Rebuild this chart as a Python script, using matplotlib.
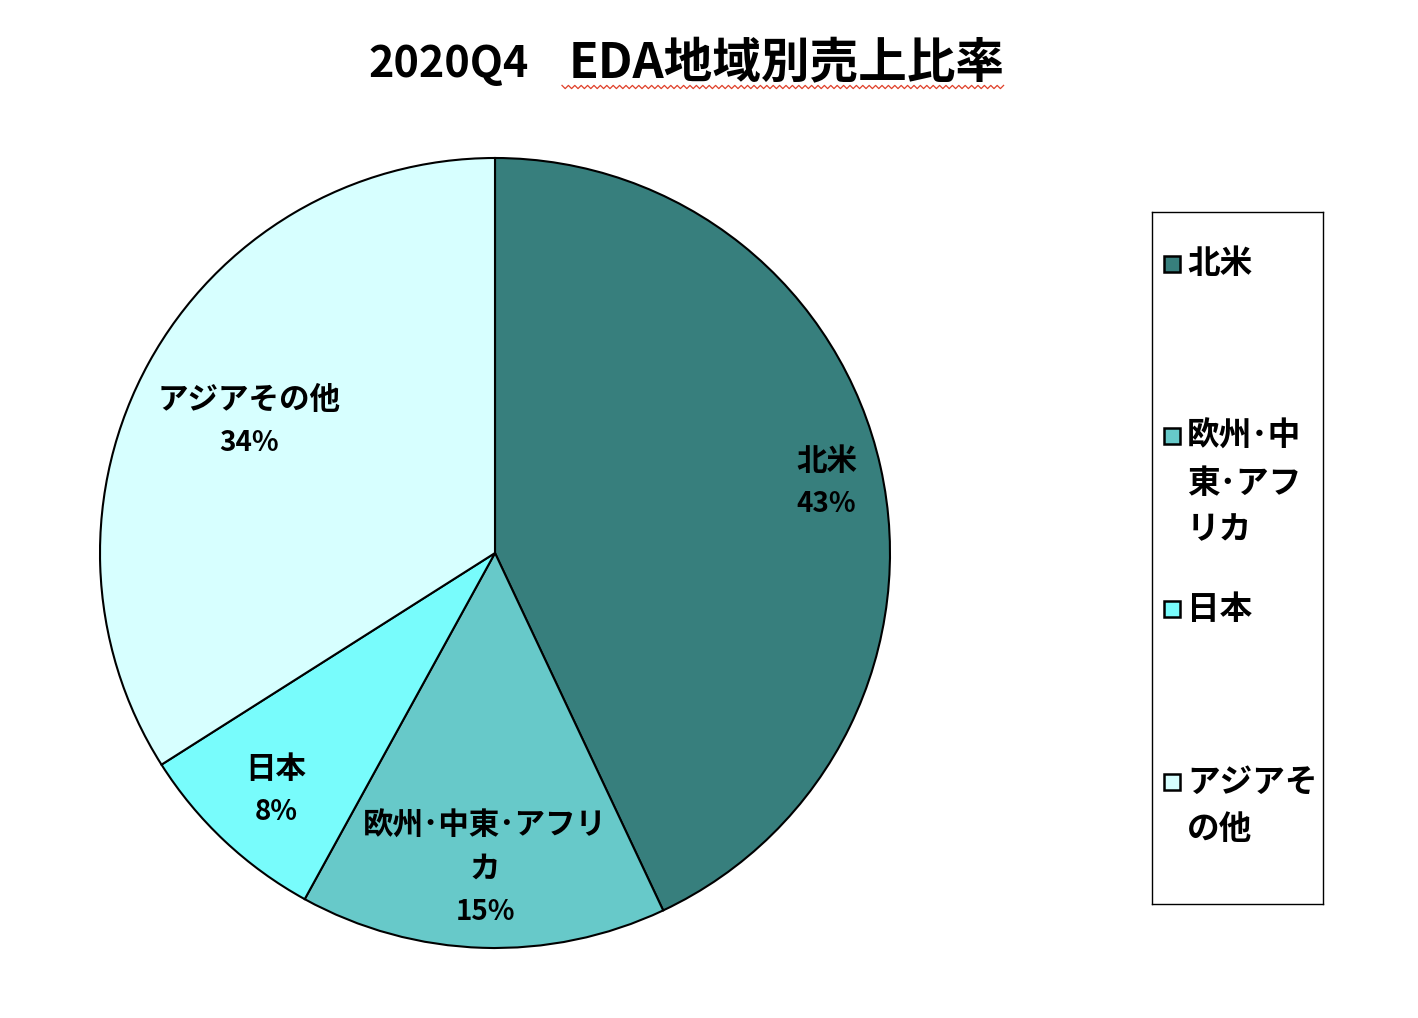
import numpy as np
import matplotlib.pyplot as plt
from matplotlib.lines import Line2D

plt.rcParams['font.family'] = ['Noto Sans CJK JP', 'DejaVu Sans']

regions = ['北米', '欧州・中東・アフリカ', '日本', 'アジアその他']
shares = [43, 15, 8, 34]
# half-width middle dot so the labels wrap like the Excel original
pie_labels = [['北米'], ['欧州･中東･アフリ', 'カ'], ['日本'], ['アジアその他']]
legend_labels = [['北米'], ['欧州･中', '東･アフ', 'リカ'], ['日本'], ['アジアそ', 'の他']]
colors = ['#377F7D', '#67C9C9', '#78FCFC', '#D7FFFF']
label_r = [0.86, 0.79, 0.81, 0.71]   # where Excel put each data label

W, H = 1418, 1018
fig = plt.figure(figsize=(W / 100, H / 100), dpi=100)

# pie: centre (495, 553) px, radius 395 px
cx, cy, r = 495, 553, 395
ax = fig.add_axes([(cx - r) / W, (H - cy - r) / H, 2 * r / W, 2 * r / H])
wedges, _ = ax.pie(shares, colors=colors, startangle=90, counterclock=False,
                   wedgeprops=dict(edgecolor='black', linewidth=1.5))
ax.set_xlim(-1, 1)
ax.set_ylim(-1, 1)

pitch = 43 / r
for w, lines, s, lr in zip(wedges, pie_labels, shares, label_r):
    mid = np.deg2rad((w.theta1 + w.theta2) / 2)
    x, y = lr * np.cos(mid), lr * np.sin(mid) - 4 / r
    top = y + pitch * len(lines) / 2
    for k, t in enumerate(lines):
        ax.text(x, top - k * pitch, t, ha='center', va='center',
                fontsize=22, fontweight='bold')
    ax.text(x, top - len(lines) * pitch, '%d%%' % s, ha='center', va='center',
            fontsize=20, fontweight='bold')

# title (two pieces so the gap matches)
fig.text(368 / W, 1 - 64 / H, '2020Q4', ha='left', va='center',
         fontsize=31, fontweight='bold')
fig.text(1005 / W, 1 - 64 / H, 'EDA地域別売上比率', ha='right', va='center',
         fontsize=35, fontweight='bold')
# red spell-check squiggle under the Japanese part
xs = np.arange(562, 1006, 3.2)
ys = 87 + np.where(np.arange(len(xs)) % 2 == 0, -1.6, 1.6)
fig.add_artist(Line2D(xs / W, 1 - ys / H, transform=fig.transFigure, color='#E0402A', lw=0.9))

# legend box
lx0, ly0, lx1, ly1 = 1152, 212, 1323, 904
lax = fig.add_axes([lx0 / W, (H - ly1) / H, (lx1 - lx0) / W, (ly1 - ly0) / H])
lax.set_xlim(0, lx1 - lx0)
lax.set_ylim(ly1 - ly0, 0)
lax.set_xticks([])
lax.set_yticks([])
for sp in lax.spines.values():
    sp.set_linewidth(1.0)

row_y = [52, 224, 397, 570]
for lines, c, y in zip(legend_labels, colors, row_y):
    lax.plot(20, y, marker='s', markersize=11, markerfacecolor=c,
             markeredgecolor='black', markeredgewidth=1.8)
    for k, t in enumerate(lines):
        lax.text(35, y + k * 47, t, ha='left', va='center',
                 fontsize=23.5, fontweight='bold')

fig.savefig('out.png', dpi=100)
